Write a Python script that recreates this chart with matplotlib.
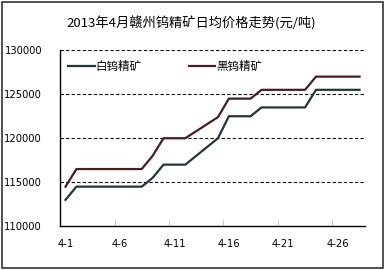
import matplotlib
matplotlib.use("Agg")
import matplotlib.pyplot as plt
from matplotlib.patches import Rectangle
import numpy as np

plt.rcParams["font.family"] = ["Noto Sans CJK SC", "DejaVu Sans"]

# daily prices 4-1 .. 4-28
days = [f"4-{d}" for d in range(1, 29)]
white_tungsten = [113000, 114500, 114500, 114500, 114500, 114500, 114500, 114500,
                  115500, 117000, 117000, 117000, 118000, 119000, 120000, 122500,
                  122500, 122500, 123500, 123500, 123500, 123500, 123500, 125500,
                  125500, 125500, 125500, 125500]
black_tungsten = [114500, 116500, 116500, 116500, 116500, 116500, 116500, 116500,
                  118000, 120000, 120000, 120000, 120800, 121600, 122400, 124500,
                  124500, 124500, 125500, 125500, 125500, 125500, 125500, 127000,
                  127000, 127000, 127000, 127000]
series_names = ["白钨精矿", "黑钨精矿"]
y_ticks = [110000, 115000, 120000, 125000, 130000]

x = np.arange(len(days))

fig = plt.figure(figsize=(3.85, 2.70), dpi=100)
ax = fig.add_axes([0.156, 0.162, 0.792, 0.652])

ax.plot(x, white_tungsten, color="#1e3838", linewidth=1.6, label=series_names[0])
ax.plot(x, black_tungsten, color="#4a1c1c", linewidth=1.6, label=series_names[1])

ax.set_xlim(-0.5, len(days) - 0.5)
ax.set_ylim(110000, 130000)

ax.set_yticks(y_ticks)
ax.set_yticklabels([str(v) for v in y_ticks], fontsize=7.2, family="DejaVu Sans")
ax.tick_params(axis="y", length=0, pad=13)
for v in y_ticks[1:]:
    ax.axhline(v, color="black", linewidth=0.8, linestyle=(0, (3, 2)), zorder=0)

label_idx = x[::5]
ax.set_xticks(label_idx)
ax.set_xticklabels([days[i] for i in label_idx], fontsize=7.2, family="DejaVu Sans")
ax.tick_params(axis="x", which="major", length=0, pad=9)
ax.set_xticks(label_idx[1:] - 0.5, minor=True)
ax.tick_params(axis="x", which="minor", direction="in", length=4, color="#bbbbbb")

for s in ["top", "right"]:
    ax.spines[s].set_visible(False)
for s in ["left", "bottom"]:
    ax.spines[s].set_color("black")
    ax.spines[s].set_linewidth(1.0)

ax.legend(loc="center left", bbox_to_anchor=(0.026, 0.905), ncol=2, frameon=False,
          fontsize=8.3, handlelength=2.3, handletextpad=0.1, columnspacing=4.1,
          borderpad=0, borderaxespad=0)

fig.text(0.497, 0.915, "2013年4月赣州钨精矿日均价格走势(元/吨)", ha="center", va="center",
         fontsize=9.5)

fig.patches.append(Rectangle((0.004, 0.006), 0.99, 0.988, transform=fig.transFigure,
                             fill=False, edgecolor="#333333", linewidth=1.2))

fig.savefig("out.png", dpi=100)
